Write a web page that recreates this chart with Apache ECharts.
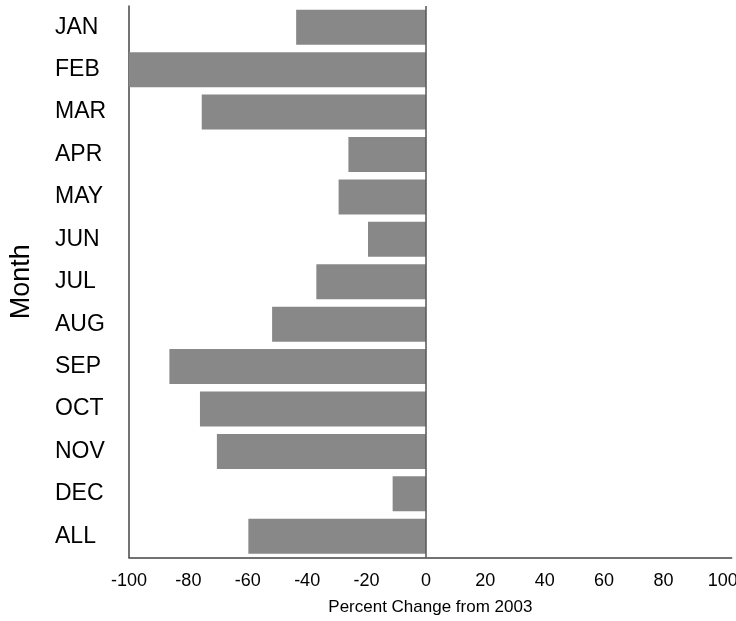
<!DOCTYPE html>
<html>
<head>
<meta charset="utf-8">
<script src="https://cdn.jsdelivr.net/npm/echarts@6/dist/echarts.min.js"></script>
<style>html,body{margin:0;padding:0;background:#fff;overflow:hidden}#c{width:736px;height:621px}</style>
</head>
<body>
<div id="c"></div>
<script>
const months = ['JAN','FEB','MAR','APR','MAY','JUN','JUL','AUG','SEP','OCT','NOV','DEC','ALL'];
const pctChange = [-43.7,-100,-75.5,-26.1,-29.4,-19.5,-36.9,-51.8,-86.4,-76.1,-70.4,-11.2,-59.8];
const xTicks = [-100,-80,-60,-40,-20,0,20,40,60,80,100];

const chart = echarts.init(document.getElementById('c'), null, {renderer:'canvas', width:736, height:621});
const font = 'Liberation Sans, Arial, sans-serif';
chart.setOption({
  animation:false,
  backgroundColor:'#fff',
  grid:{left:129, top:6, right:4.3, bottom:63.5, containLabel:false, outerBoundsMode:'none'},
  xAxis:{
    type:'value', min:-100, max:103, interval:20,
    name:'Percent Change from 2003', nameLocation:'middle', nameGap:41,
    nameTextStyle:{fontFamily:font, fontSize:17, color:'#000'},
    axisLine:{show:true, onZero:false, lineStyle:{color:'#444', width:1.5}},
    axisTick:{show:false}, splitLine:{show:false},
    axisLabel:{fontFamily:font, fontSize:18, color:'#000', margin:15,
      showMaxLabel:false, hideOverlap:false,
      formatter:v=>xTicks.includes(v)?String(v):''}
  },
  yAxis:{
    type:'category', data:months, inverse:true,
    name:'Month', nameLocation:'middle', nameRotate:90, nameGap:94,
    nameTextStyle:{fontFamily:font, fontSize:27, color:'#000'},
    axisLine:{show:true, onZero:false, lineStyle:{color:'#444', width:1.5}},
    axisTick:{show:false},
    axisLabel:{fontFamily:font, fontSize:23, color:'#000', align:'left', margin:74}
  },
  series:[{
    type:'bar', data:pctChange, barCategoryGap:'17.5%',
    itemStyle:{color:'#888888'},
    markLine:{silent:true, symbol:'none', label:{show:false},
      lineStyle:{color:'#555', width:1.5, type:'solid'},
      data:[{xAxis:0}]}
  }]
});
</script>
</body>
</html>
